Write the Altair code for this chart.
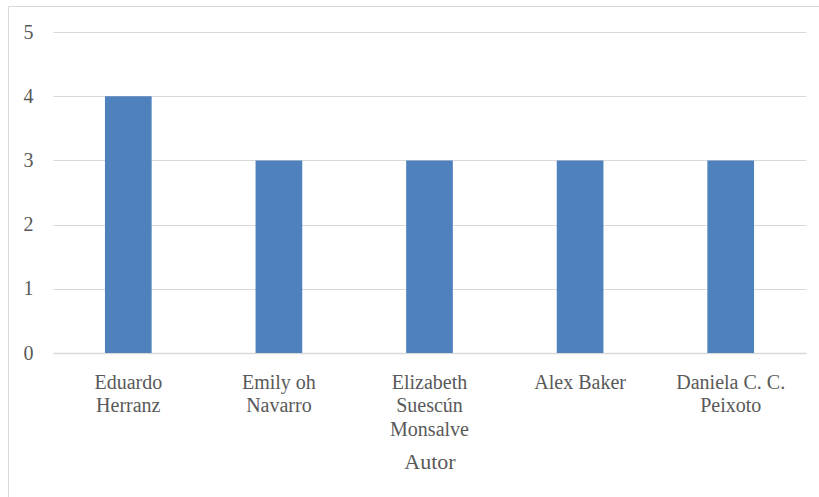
import altair as alt
import pandas as pd

# Publications per author
autores = [
    "Eduardo\nHerranz",
    "Emily oh\nNavarro",
    "Elizabeth\nSuescún\nMonsalve",
    "Alex Baker",
    "Daniela C. C.\nPeixoto",
]
cantidad = [4, 3, 3, 3, 3]

df = pd.DataFrame({"Autor": autores, "Cantidad": cantidad})

FONT = "Liberation Serif"
TEXT = "#595959"
LINE = "#d9d9d9"

# light frame around the whole chart
frame = alt.Chart(pd.DataFrame({"k": [0]})).mark_rect(
    fill=None, stroke=LINE, strokeWidth=1
).encode(
    x=alt.value(-44.5), x2=alt.value(800),
    y=alt.value(-25.5), y2=alt.value(480),
)

bars = alt.Chart(df).mark_bar(color="#4F81BD").encode(
    x=alt.X(
        "Autor:N",
        sort=autores,
        scale=alt.Scale(paddingInner=0.69, paddingOuter=0.345),
        axis=alt.Axis(
            title="Autor",
            labelAngle=0,
            labelExpr="split(datum.label, '\\n')",
            labelLineHeight=23.5,
            labelPadding=19,
            labelFontSize=20,
            labelColor=TEXT,
            labelFont=FONT,
            ticks=False,
            domainColor=LINE,
            domainWidth=1.5,
            titleFont=FONT,
            titleFontSize=22,
            titleFontWeight="normal",
            titleColor=TEXT,
            titleBaseline="alphabetic",
            titleY=115,
        ),
    ),
    y=alt.Y(
        "Cantidad:Q",
        scale=alt.Scale(domain=[0, 5]),
        axis=alt.Axis(
            title=None,
            values=[0, 1, 2, 3, 4, 5],
            ticks=False,
            domain=False,
            labelPadding=20,
            labelFontSize=20,
            labelColor=TEXT,
            labelFont=FONT,
            gridColor=LINE,
            gridWidth=1.2,
        ),
    ),
)

chart = alt.layer(frame, bars).properties(
    width=753,
    height=321,
    autosize=alt.AutoSizeParams(type="none"),
    padding={"left": 53, "top": 32, "right": 13, "bottom": 144},
    background="white",
).configure_view(stroke=None)

chart.save("out.html", embed_options={"renderer": "svg", "actions": False})
